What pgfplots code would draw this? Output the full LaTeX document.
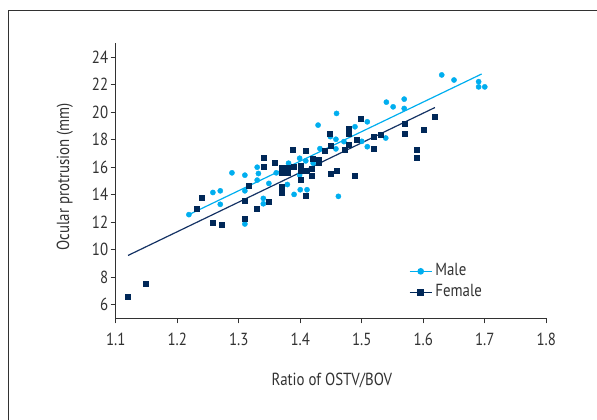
\documentclass[border=0pt]{standalone}
\usepackage{fontspec}
\setmainfont{PT Sans}[FakeStretch=0.85]
\usepackage{pgfplots}
\pgfplotsset{compat=1.18}
\usetikzlibrary{calc}
\definecolor{maleC}{RGB}{0,174,239}
\definecolor{femC}{RGB}{0,40,88}
\definecolor{femL}{RGB}{20,50,100}
\definecolor{axC}{RGB}{50,50,50}
\newcommand{\lblfont}{\fontsize{17.5}{20}\selectfont}

\begin{document}
\begin{tikzpicture}
\begin{axis}[
    name=ax,
    width=430.6pt, height=275pt, scale only axis,
    xmin=1.1, xmax=1.8, ymin=5, ymax=25,
    axis lines=left,
    axis line style={-, axC, line width=1.1pt},
    tick align=outside,
    major tick length=5pt,
    tick style={axC, line width=1pt},
    xtick={1.1,1.2,1.3,1.4,1.5,1.6,1.7,1.8},
    xticklabels={1.1,1.2,1.3,1.4,1.5,1.6,1.7,1.8},
    ytick={6,8,10,12,14,16,18,20,22,24},
    yticklabels={6,8,10,12,14,16,18,20,22,24},
    ticklabel style={font=\lblfont, text=axC},
    xticklabel style={yshift=-6pt},
    yticklabel style={xshift=1pt},
    xlabel={Ratio of OSTV/BOV},
    ylabel={Ocular protrusion (mm)},
    label style={font=\lblfont, text=axC},
    xlabel style={at={(axis description cs:0.502,-0.227)}, anchor=center},
    ylabel style={at={(axis description cs:-0.118,0.515)}, anchor=center},
    legend style={at={(axis description cs:0.674,0.217)}, anchor=north west,
        draw=none, fill=none, font=\lblfont, text=axC,
        nodes={inner sep=3pt, text height=12pt, text depth=3pt}},
    legend cell align=left,
    legend image code/.code={
        \draw[mark repeat=2, mark phase=2]
        plot coordinates {(0pt,0pt) (11pt,0pt) (22pt,0pt)};},
]
\addlegendimage{maleC, line width=1.2pt, mark=*, mark size=2.7, mark options={solid}}
\addlegendentry{Male}
\addlegendimage{femC, line width=1.2pt, mark=square*, mark size=2.7, mark options={solid}}
\addlegendentry{Female}

% regression lines
\addplot[maleC, line width=1.2pt, forget plot] coordinates {(1.219,12.54) (1.695,22.77)};
\addplot[femL, line width=1.2pt, forget plot] coordinates {(1.120,9.57) (1.619,20.33)};

% male
\addplot[only marks, mark=*, mark size=2.6, color=maleC, forget plot] coordinates {
(1.219,12.54) (1.258,14.15) (1.270,14.27) (1.270,13.29) (1.289,15.58)
(1.310,15.41) (1.310,14.27) (1.310,11.86) (1.330,15.99) (1.332,15.53)
(1.330,15.05) (1.349,14.81) (1.340,13.72) (1.340,13.33) (1.361,15.58)
(1.370,15.67) (1.379,14.73) (1.381,16.28) (1.390,14.01) (1.399,16.64)
(1.399,15.43) (1.400,14.35) (1.409,16.45) (1.411,14.35) (1.421,16.28)
(1.429,19.05) (1.432,17.34) (1.449,18.21) (1.458,18.02) (1.459,19.90)
(1.458,17.32) (1.462,13.87) (1.471,17.85) (1.489,18.93) (1.500,17.87)
(1.509,19.29) (1.509,17.48) (1.540,20.72) (1.551,20.38) (1.539,18.11)
(1.569,20.94) (1.569,20.26) (1.630,22.70) (1.650,22.33) (1.690,22.21)
(1.690,21.83) (1.700,21.83)
};

% female
\addplot[only marks, mark=square*, mark size=2.5, color=femC, forget plot] coordinates {
(1.120,6.58) (1.148,7.54) (1.231,12.95) (1.239,13.74) (1.258,11.96)
(1.273,11.79) (1.310,13.53) (1.310,12.22) (1.317,14.61) (1.330,12.95)
(1.340,16.71) (1.340,15.99) (1.349,13.48) (1.359,16.28) (1.370,15.96)
(1.370,15.58) (1.370,14.59) (1.370,14.11) (1.379,15.92) (1.379,15.58)
(1.388,17.29) (1.390,16.06) (1.400,16.08) (1.400,15.70) (1.400,15.05)
(1.409,17.22) (1.410,15.70) (1.409,13.89) (1.419,15.87) (1.419,15.34)
(1.421,16.64) (1.430,16.54) (1.430,16.28) (1.440,17.22) (1.448,18.45)
(1.450,17.53) (1.450,15.55) (1.460,15.70) (1.472,17.29) (1.479,18.76)
(1.479,18.45) (1.479,17.65) (1.489,15.34) (1.491,18.02) (1.499,19.54)
(1.520,18.18) (1.520,17.36) (1.530,18.38) (1.569,19.17) (1.570,18.45)
(1.590,17.29) (1.590,16.71) (1.601,18.74) (1.618,19.68)
};
\end{axis}
\pgfresetboundingbox
\coordinate (o) at ($(ax.south west)+(-115.7pt,-101.7pt)$);
\path[use as bounding box] (o) rectangle ++(597pt,420pt);
% outer frame of the figure panel
\draw[axC, line width=1pt] ($(o)+(8.3pt,-5pt)$) -- ($(o)+(8.3pt,409pt)$) -- ($(o)+(605pt,409pt)$);
\end{tikzpicture}
\end{document}
